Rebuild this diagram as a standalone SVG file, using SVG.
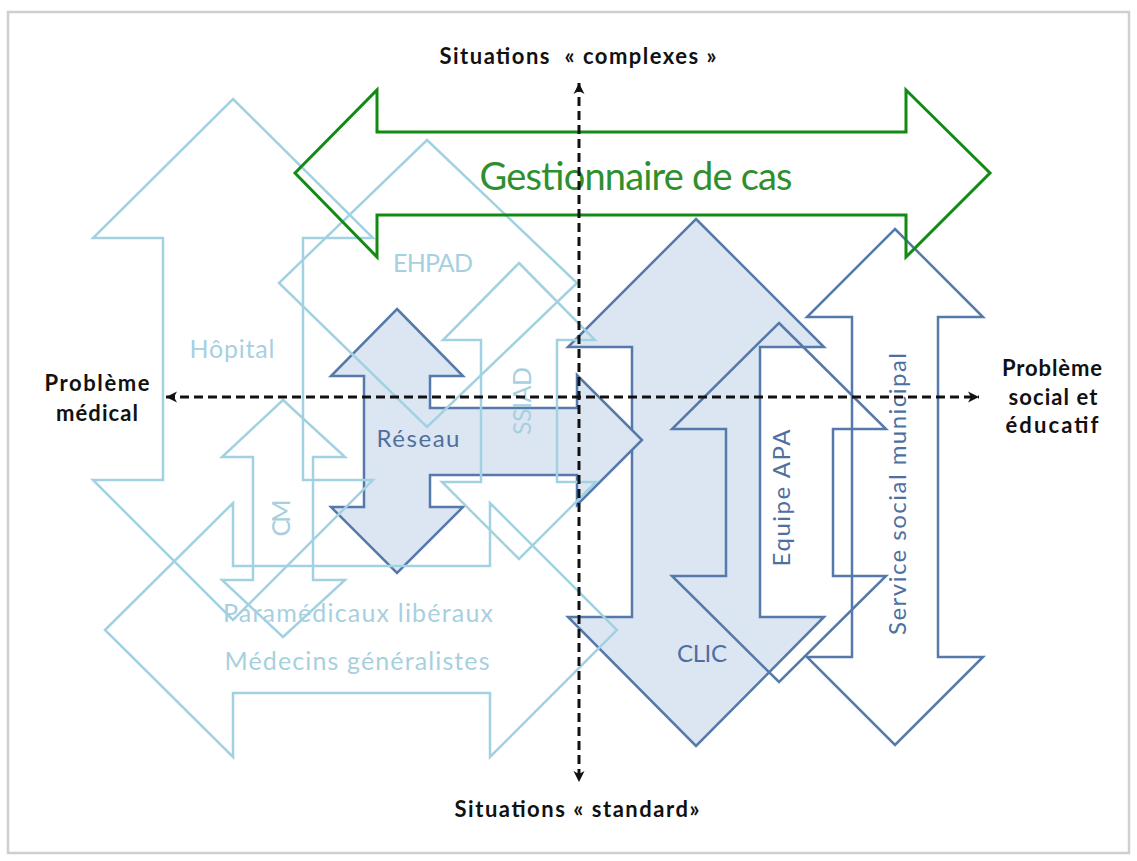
<svg xmlns="http://www.w3.org/2000/svg" width="1137" height="861" viewBox="0 0 1137 861">
<style>
.lb{fill:none;stroke:#a2d2e1;stroke-width:2.5;stroke-linejoin:miter}
.dbf{fill:#dce6f2;stroke:#5479aa;stroke-width:2.5}
.db{fill:none;stroke:#5479aa;stroke-width:2.5}
.gr{fill:none;stroke:#138a13;stroke-width:3}
.ax{fill:none;stroke:#111;stroke-width:3;stroke-dasharray:9 5}
text{font-family:Lato,"Open Sans","Liberation Sans",sans-serif}
.tl{fill:#a7d0df;font-size:25px}
.td{fill:#4f6f9f;font-size:24px}
.tg{fill:#2f8f2f;font-size:38px}
.tb{fill:#111;font-size:22px;font-weight:bold}
</style>
<defs>
<marker id="ah" viewBox="0 0 12 12" refX="11" refY="6" markerWidth="12" markerHeight="12" markerUnits="userSpaceOnUse" orient="auto-start-reverse">
<path d="M0,0.5 L11,6 L0,11.5 L3,6 Z" fill="#111"/>
</marker>
</defs>
<rect x="8" y="12" width="1121" height="841" fill="#fff" stroke="#cfcfcf" stroke-width="2.5"/>

<g id="clic">
<path class="dbf" d="M696,219 L824,347 L760,347 L760,617 L824,617 L696,746 L568,617 L632,617 L632,347 L568,347 Z"/>
<text class="td" x="702" y="662" text-anchor="middle" textLength="50">CLIC</text>
</g>
<g id="reseau">
<path class="dbf" d="M397,309 L463,376 L430,376 L430,408 L577,408 L577,375 L642,440 L577,505 L577,475 L430,475 L430,507 L463,507 L397,573 L331,507 L364,507 L364,376 L331,376 Z"/>
<text class="td" x="418" y="447" text-anchor="middle" textLength="83">Réseau</text>
</g>

<g id="hopital">
<path class="lb" d="M233,99 L373,238 L303,238 L303,480 L373,480 L233,620 L93,480 L163,480 L163,238 L93,238 Z"/>
<text class="tl" x="232" y="358" text-anchor="middle" textLength="85">Hôpital</text>
</g>
<g id="ehpad">
<path class="lb" d="M427,140 L577,283 L427,427 L279,283 Z"/>
<text class="tl" x="433" y="272" text-anchor="middle" textLength="80">EHPAD</text>
</g>
<g id="ssiad">
<path class="lb" d="M519,263 L595,340 L557,340 L557,482 L596,482 L519,559 L442,482 L481,482 L481,340 L443,340 Z"/>
<text class="tl" transform="translate(531,401) rotate(-90)" text-anchor="middle" textLength="68">SSIAD</text>
</g>
<g id="cm">
<path class="lb" d="M283,400 L345,457 L313,457 L313,580 L345,580 L283,637 L222,580 L253,580 L253,457 L222,457 Z"/>
<text class="tl" transform="translate(290,518) rotate(-90)" text-anchor="middle" textLength="37">CM</text>
</g>
<g id="medecins">
<path class="lb" d="M105,630 L233,503 L233,566 L490,566 L490,503 L617,630 L490,757 L490,693 L233,693 L233,757 Z"/>
<text class="tl" x="358" y="622" text-anchor="middle" textLength="270">Paramédicaux libéraux</text>
<text class="tl" x="357" y="670" text-anchor="middle" textLength="265">Médecins généralistes</text>
</g>

<g id="equipe-apa">
<path class="db" d="M779,323 L886,429 L833,429 L833,576 L886,576 L779,682 L672,576 L726,576 L726,429 L672,429 Z"/>
<text class="td" transform="translate(790,498) rotate(-90)" text-anchor="middle" textLength="137">Equipe APA</text>
</g>
<g id="service-social">
<path class="db" d="M895,229 L983,317 L938,317 L938,657 L983,657 L895,745 L807,657 L852,657 L852,317 L807,317 Z"/>
<text class="td" transform="translate(906,494) rotate(-90)" text-anchor="middle" textLength="282">Service social municipal</text>
</g>
<g id="gestionnaire">
<path class="gr" d="M295,173 L377,90 L377,132 L906,132 L906,90 L990,173 L906,257 L906,215 L377,215 L377,257 Z"/>
<text class="tg" x="636" y="190" text-anchor="middle" textLength="313">Gestionnaire de cas</text>
</g>

<g id="connectors">
<line class="ax" x1="166" y1="397" x2="979" y2="397" marker-start="url(#ah)" marker-end="url(#ah)"/>
<line class="ax" x1="579" y1="83" x2="579" y2="782" marker-start="url(#ah)" marker-end="url(#ah)"/>
</g>

<g id="labels">
<text class="tb" x="578" y="64" text-anchor="middle" textLength="277" xml:space="preserve">Situations  « complexes »</text>
<text class="tb" x="577" y="817" text-anchor="middle" textLength="245">Situations « standard»</text>
<text class="tb" x="97" y="391" text-anchor="middle" textLength="105">Problème</text>
<text class="tb" x="97" y="421" text-anchor="middle" textLength="82">médical</text>
<text class="tb" x="1052" y="376" text-anchor="middle" textLength="100">Problème</text>
<text class="tb" x="1053" y="405" text-anchor="middle" textLength="89">social et</text>
<text class="tb" x="1052" y="433" text-anchor="middle" textLength="93">éducatif</text>
</g>
</svg>
